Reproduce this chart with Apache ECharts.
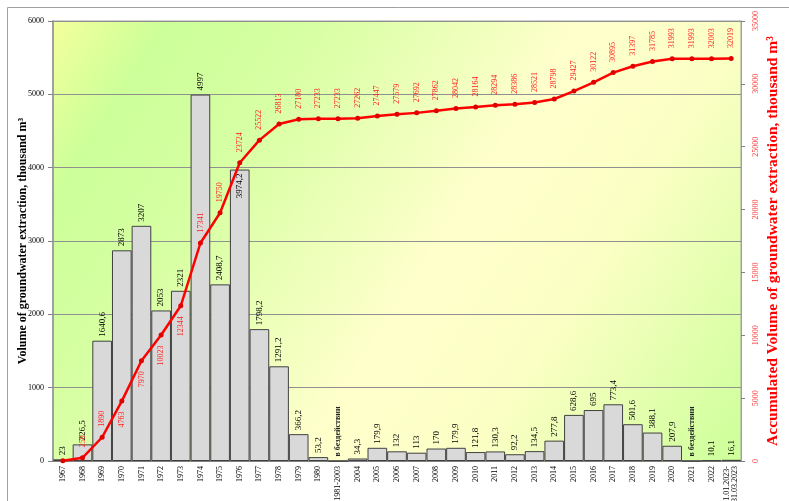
<!DOCTYPE html>
<html>
<head>
<meta charset="utf-8">
<script src="https://cdn.jsdelivr.net/npm/echarts@6/dist/echarts.min.js"></script>
<style>html,body{margin:0;padding:0;background:#fff}#c{width:789px;height:501px}</style>
</head>
<body>
<div id="c"></div>
<script>
const categories = ['1967','1968','1969','1970','1971','1972','1973','1974','1975','1976','1977','1978','1979','1980','1981-2003','2004','2005','2006','2007','2008','2009','2010','2011','2012','2013','2014','2015','2016','2017','2018','2019','2020','2021','2022','01.01.2023-\n31.03.2023'];
// null = well inactive ("в бездействии")
const annualVolume = [23,226.5,1640.6,2873,3207,2053,2321,4997,2408.7,3974.2,1798.2,1291.2,366.2,53.2,null,34.3,179.9,132,113,170,179.9,121.8,130.3,92.2,134.5,277.8,628.6,695,773.4,501.6,388.1,207.9,null,10.1,16.1];
const accumulated = [23,250,1890,4763,7970,10023,12344,17341,19750,23724,25522,26813,27180,27233,27233,27262,27447,27579,27692,27862,28042,28164,28294,28386,28521,28798,29427,30122,30895,31397,31785,31993,31993,32003,32019];
const idleLabel = 'в бездействии';
const leftTitle = 'Volume of groundwater extraction, thousand m³';
const rightTitle = 'Accumulated Volume of groundwater extraction, thousand m³';

const FONT = '"Liberation Serif", "Times New Roman", serif';
const fmt = v => String(v).replace('.', ',');

const barData = annualVolume.map((v, i) => {
  if (v === null) {
    return {value: 0, label: {formatter: idleLabel, fontWeight: 'bold', fontSize: 8, color: '#222'}};
  }
  if (categories[i] === '1976') {
    return {value: v, label: {position: 'insideTop', align: 'right', distance: 4}};
  }
  return v;
});
const belowIdx = ['1970','1971','1972','1973'];
const lineData = accumulated.map((v, i) => {
  if (i === 0) return {value: v, label: {show: false}};
  if (belowIdx.includes(categories[i])) return {value: v, label: {position: 'bottom', align: 'right', distance: 8}};
  return v;
});

const chart = echarts.init(document.getElementById('c'), null, {renderer: 'canvas'});
chart.setOption({
  animation: false,
  backgroundColor: '#fff',
  graphic: [{type: 'rect', shape: {x: 7.5, y: 7.5, width: 820, height: 540}, style: {fill: 'none', stroke: '#a0a0a0', lineWidth: 1}, silent: true, z: -10}],
  grid: {
    left: 53, right: 48, top: 21, bottom: 40, show: true, containLabel: false, outerBoundsMode: 'none',
    borderColor: '#a0a0a0', borderWidth: 1,
    backgroundColor: {type: 'linear', x: 0, y: 0, x2: 1, y2: 1, colorStops: [
      {offset: 0, color: '#f4ff9c'},
      {offset: 0.12, color: '#ccff99'},
      {offset: 0.28, color: '#d8ffa4'},
      {offset: 0.55, color: '#ffffcc'},
      {offset: 0.72, color: '#fbffc4'},
      {offset: 1, color: '#ccff99'}
    ]}
  },
  xAxis: {
    type: 'category', data: categories,
    axisLine: {lineStyle: {color: '#808080'}},
    axisTick: {show: false},
    axisLabel: {interval: 0, rotate: 90, fontSize: 8, color: '#000', fontFamily: FONT, margin: 5, lineHeight: 8}
  },
  yAxis: [{
    type: 'value', min: 0, max: 6000, interval: 1000,
    name: leftTitle, nameLocation: 'middle', nameGap: 24, nameRotate: 90, nameMoveOverlap: false,
    nameTextStyle: {fontSize: 12, fontWeight: 'bold', color: '#000', fontFamily: FONT},
    axisLine: {show: true, lineStyle: {color: '#a0a0a0', width: 2}},
    axisTick: {show: true, length: 5, lineStyle: {color: '#808080'}},
    axisLabel: {fontSize: 8, color: '#000', fontFamily: FONT, margin: 9, formatter: v => String(v)},
    splitLine: {lineStyle: {color: '#909090', width: 1}}
  }, {
    type: 'value', min: 0, max: 35000, interval: 5000, position: 'right',
    name: rightTitle, nameLocation: 'middle', nameGap: 24, nameRotate: 90, nameMoveOverlap: false,
    nameTextStyle: {fontSize: 15.5, fontWeight: 'bold', color: '#ff0000', fontFamily: FONT},
    axisLine: {show: true, lineStyle: {color: '#a0a0a0', width: 1}},
    axisTick: {show: true, length: 4, lineStyle: {color: '#808080'}},
    axisLabel: {fontSize: 8, color: '#ff3333', fontFamily: FONT, rotate: 90, margin: 11, formatter: v => String(v)},
    splitLine: {show: false}
  }],
  series: [{
    type: 'bar', data: barData, barCategoryGap: 0, yAxisIndex: 0,
    itemStyle: {color: '#d9d9d9', borderColor: '#404040', borderWidth: 1},
    label: {show: true, position: 'top', rotate: 90, align: 'left', verticalAlign: 'middle', distance: 4,
      fontSize: 9, color: '#000', fontFamily: FONT, formatter: p => fmt(p.value)}
  }, {
    type: 'line', data: lineData, yAxisIndex: 1,
    lineStyle: {color: '#ff0000', width: 2.5},
    itemStyle: {color: '#e00000'},
    symbol: 'circle', symbolSize: 5, z: 5,
    label: {show: true, position: 'top', rotate: 90, align: 'left', verticalAlign: 'middle', distance: 8,
      fontSize: 8, color: '#ff2020', fontFamily: FONT}
  }]
});
</script>
</body>
</html>
